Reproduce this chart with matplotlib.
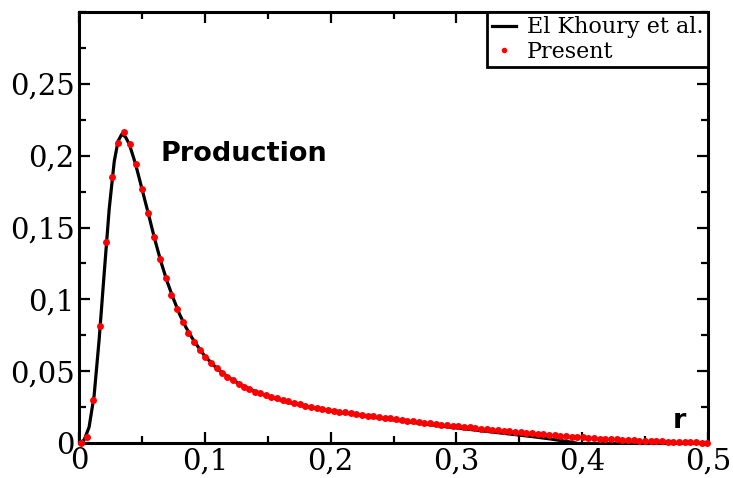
import matplotlib
matplotlib.use("Agg")
import matplotlib.pyplot as plt
from matplotlib.ticker import MultipleLocator, FuncFormatter

# El Khoury et al. (reference solution, solid black line)
r_khoury = [0.0, 0.004, 0.008, 0.012, 0.016, 0.020, 0.024, 0.028, 0.031, 0.034,
            0.037, 0.040, 0.045, 0.050, 0.055, 0.060, 0.065, 0.070, 0.075, 0.080,
            0.085, 0.090, 0.095, 0.100, 0.110, 0.120, 0.130, 0.140, 0.150, 0.165,
            0.180, 0.200, 0.220, 0.240, 0.260, 0.280, 0.300, 0.320, 0.340, 0.360,
            0.375, 0.390, 0.395]
p_khoury = [0.0, 0.002, 0.011, 0.033, 0.072, 0.118, 0.163, 0.196, 0.210, 0.2150,
            0.2130, 0.208, 0.194, 0.177, 0.160, 0.1425, 0.1265, 0.1125, 0.1005, 0.0895,
            0.0805, 0.0730, 0.0665, 0.0605, 0.0515, 0.0450, 0.0398, 0.0358, 0.0326, 0.0285,
            0.0255, 0.0222, 0.0197, 0.0172, 0.0149, 0.0126, 0.0105, 0.0085, 0.0065, 0.0045,
            0.0028, 0.0008, 0.0]

# Present computation (red dots)
r_present = [0.0015, 0.0063, 0.0114, 0.0164, 0.0212, 0.0260, 0.0307, 0.0357, 0.0405, 0.0452,
             0.0500, 0.0548, 0.0595, 0.0643, 0.0690, 0.0733, 0.0780, 0.0825, 0.0870, 0.0915,
             0.0960, 0.1005, 0.1050, 0.1095, 0.1138, 0.1180, 0.1225, 0.1270, 0.1315, 0.1350,
             0.1395, 0.1440, 0.1485, 0.1530, 0.1575, 0.1620, 0.1665, 0.1710, 0.1755, 0.1800,
             0.1845, 0.1890, 0.1935, 0.1980, 0.2025, 0.2070, 0.2115, 0.2160, 0.2205, 0.2250,
             0.2295, 0.2340, 0.2385, 0.2430, 0.2475, 0.2520, 0.2565, 0.2610, 0.2655, 0.2700,
             0.2745, 0.2790, 0.2835, 0.2880, 0.2925, 0.2970, 0.3015, 0.3060, 0.3105, 0.3150,
             0.3195, 0.3240, 0.3285, 0.3330, 0.3375, 0.3420, 0.3465, 0.3510, 0.3555, 0.3600,
             0.3645, 0.3690, 0.3735, 0.3780, 0.3825, 0.3870, 0.3915, 0.3960, 0.4005, 0.4050,
             0.4095, 0.4140, 0.4185, 0.4230, 0.4275, 0.4320, 0.4365, 0.4410, 0.4455, 0.4500,
             0.4545, 0.4590, 0.4635, 0.4680, 0.4725, 0.4770, 0.4815, 0.4860, 0.4905, 0.4950,
             0.4995]
p_present = [0.0000, 0.0039, 0.0300, 0.0815, 0.1397, 0.1850, 0.2090, 0.2165, 0.2080, 0.1940,
             0.1770, 0.1600, 0.1436, 0.1280, 0.1150, 0.1030, 0.0930, 0.0840, 0.0767, 0.0703,
             0.0646, 0.0596, 0.0557, 0.0523, 0.0488, 0.0459, 0.0436, 0.0413, 0.0392, 0.0375,
             0.0358, 0.0345, 0.0334, 0.0322, 0.0311, 0.0300, 0.0290, 0.0280, 0.0270, 0.0261,
             0.0253, 0.0245, 0.0238, 0.0231, 0.0224, 0.0218, 0.0213, 0.0207, 0.0202, 0.0196,
             0.0191, 0.0186, 0.0181, 0.0176, 0.0171, 0.0166, 0.0161, 0.0156, 0.0151, 0.0146,
             0.0141, 0.0137, 0.0132, 0.0128, 0.0124, 0.0120, 0.0116, 0.0112, 0.0108, 0.0104,
             0.0100, 0.0096, 0.0092, 0.0089, 0.0085, 0.0081, 0.0078, 0.0074, 0.0071, 0.0067,
             0.0064, 0.0060, 0.0057, 0.0054, 0.0051, 0.0048, 0.0045, 0.0042, 0.0039, 0.0036,
             0.0034, 0.0031, 0.0029, 0.0027, 0.0025, 0.0023, 0.0021, 0.0019, 0.0017, 0.0015,
             0.0014, 0.0012, 0.0011, 0.0009, 0.0008, 0.0007, 0.0006, 0.0005, 0.0004, 0.0003,
             0.0002]

fig = plt.figure(figsize=(7.33, 4.78), dpi=100)
ax = fig.add_axes([0.1078, 0.0732, 0.8581, 0.9017])

ax.plot(r_khoury, p_khoury, color="black", lw=2.3, label="El Khoury et al.", zorder=2)
ax.plot(r_present, p_present, ls="none", marker="o", ms=5, mec="none", color="red",
        label="Present", zorder=3, clip_on=False)

ax.set_xlim(0, 0.5)
ax.set_ylim(0, 0.3)
ax.xaxis.set_major_locator(MultipleLocator(0.1))
ax.xaxis.set_minor_locator(MultipleLocator(0.05))
ax.yaxis.set_major_locator(MultipleLocator(0.05))
ax.yaxis.set_minor_locator(MultipleLocator(0.025))

comma = FuncFormatter(lambda v, pos: ("%g" % round(v, 3)).replace(".", ","))
ax.xaxis.set_major_formatter(comma)
ax.yaxis.set_major_formatter(comma)
ax.set_yticks([0, 0.05, 0.1, 0.15, 0.2, 0.25])

for s in ax.spines.values():
    s.set_linewidth(2.2)
ax.tick_params(which="both", direction="in", top=True, right=True, width=1.6)
ax.tick_params(which="major", length=8, labelsize=21, pad=3)
ax.tick_params(which="minor", length=5)
for lab in ax.get_xticklabels() + ax.get_yticklabels():
    lab.set_family("DejaVu Serif")

ax.text(0.065, 0.201, "Production", fontsize=19.5, fontweight="bold", family="DejaVu Sans",
        va="center", ha="left")
ax.text(0.477, 0.0155, "r", fontsize=19.5, fontweight="bold", family="DejaVu Sans",
        va="center", ha="center")

leg = ax.legend(loc="upper right", borderaxespad=0, fancybox=False, frameon=True,
                prop={"family": "DejaVu Serif", "size": 16}, handlelength=1.1,
                handletextpad=0.5, borderpad=0.2, labelspacing=0.1, markerscale=0.8)
leg.get_frame().set_edgecolor("black")
leg.get_frame().set_linewidth(2)
leg.get_frame().set_alpha(1)

fig.savefig("out.png", dpi=100)
